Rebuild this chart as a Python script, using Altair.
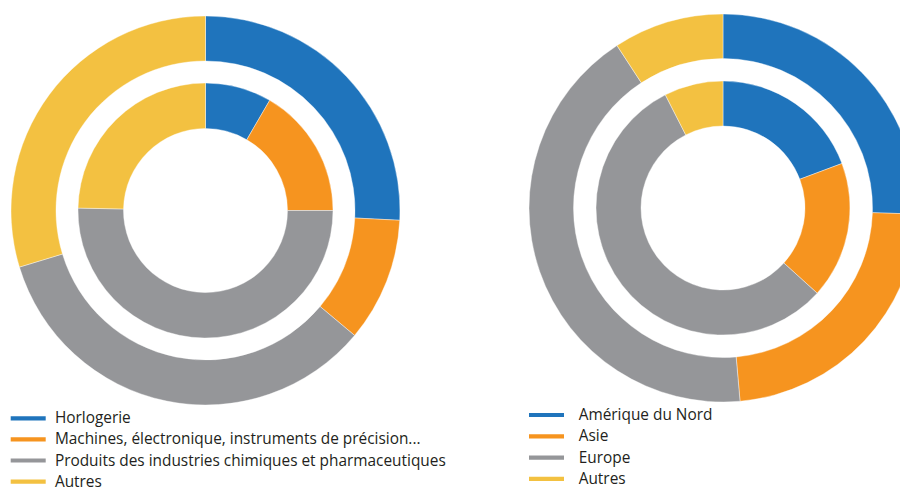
import altair as alt
import pandas as pd

# Left donut: product categories
prod_cats = ["Horlogerie",
             "Machines, électronique, instruments de précision...",
             "Produits des industries chimiques et pharmaceutiques",
             "Autres"]
prod_outer = [25.8, 10.3, 34.2, 29.7]
prod_inner = [8.4, 16.6, 50.3, 24.7]

# Right donut: regions
reg_cats = ["Amérique du Nord", "Asie", "Europe", "Autres"]
reg_outer = [25.5, 23.1, 42.2, 9.2]
reg_inner = [19.3, 17.4, 55.8, 7.5]

colors = ["#1F74BC", "#F6941F", "#959699", "#F3C141"]

FONT = "Open Sans"


def ring_df(cats, vals, field):
    return pd.DataFrame({field: cats, "v": vals, "o": list(range(len(cats)))})


def ring(df, field, cats, r_in, r_out, cx, cy, legend):
    return alt.Chart(df).mark_arc(radius=r_out, radius2=r_in, stroke="white", strokeWidth=0.4).encode(
        theta=alt.Theta("v:Q", stack=True, scale=alt.Scale(domain=[0, 100])),
        order=alt.Order("o:Q"),
        color=alt.Color(f"{field}:N", scale=alt.Scale(domain=cats, range=colors),
                        sort=cats, legend=legend, title=None),
        x=alt.value(cx),
        y=alt.value(cy),
    )


line_sym = "M-5,-0.6L5,-0.6L5,0.6L-5,0.6Z"

leg_left = alt.Legend(orient="none", legendX=12.5, legendY=402.6, symbolType=line_sym,
                      symbolSize=49, symbolStrokeWidth=0, labelOffset=19,
                      labelFont=FONT, labelFontSize=15.4, labelColor="#231F20",
                      rowPadding=4.1, padding=0, labelLimit=600, title=None)
leg_right = alt.Legend(orient="none", legendX=530.8, legendY=399.3, symbolType=line_sym,
                       symbolSize=49, symbolStrokeWidth=0, labelOffset=24.5,
                       labelFont=FONT, labelFontSize=15.4, labelColor="#231F20",
                       rowPadding=4.3, padding=0, labelLimit=600, title=None)

LCX, LCY = 197.5, 202.5
RCX, RCY = 715, 200

left = alt.layer(
    ring(ring_df(prod_cats, prod_outer, "produit"), "produit", prod_cats, 149.5, 194.5, LCX, LCY, leg_left),
    ring(ring_df(prod_cats, prod_inner, "produit"), "produit", prod_cats, 82, 127.5, LCX, LCY, leg_left),
)
right = alt.layer(
    ring(ring_df(reg_cats, reg_outer, "region"), "region", reg_cats, 149.5, 194, RCX, RCY, leg_right),
    ring(ring_df(reg_cats, reg_inner, "region"), "region", reg_cats, 82, 127, RCX, RCY, leg_right),
)

chart = alt.layer(left, right).resolve_scale(color="independent", theta="independent").properties(
    width=892, height=479, padding=0, autosize=alt.AutoSizeParams(type="none"),
).configure_view(stroke=None)

chart.save("out.html", embed_options={"renderer": "svg", "actions": False})
